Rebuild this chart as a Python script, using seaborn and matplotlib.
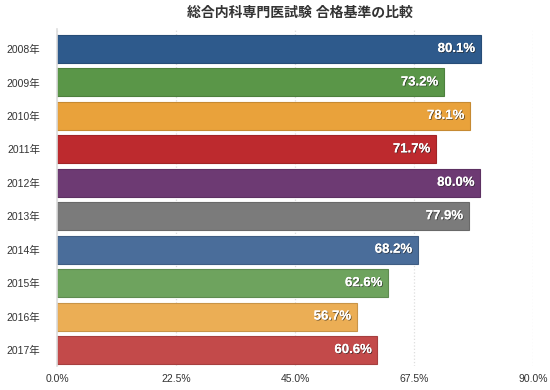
import matplotlib
matplotlib.use('Agg')
import matplotlib.pyplot as plt
import matplotlib.patheffects as pe
import matplotlib.colors as mcolors
import seaborn as sns
import pandas as pd
from matplotlib.ticker import FixedLocator, FuncFormatter

years = ['2008年', '2009年', '2010年', '2011年', '2012年',
         '2013年', '2014年', '2015年', '2016年', '2017年']
rates = [80.1, 73.2, 78.1, 71.7, 80.0, 77.9, 68.2, 62.6, 56.7, 60.6]
colors = ['#2e5a8c', '#5a9648', '#e9a23b', '#bd2a2e', '#6d3a73',
          '#7b7b7b', '#4a6d9a', '#6ea35e', '#ebae55', '#c34a4a']
xticks = [0, 22.5, 45, 67.5, 90]
title = '総合内科専門医試験 合格基準の比較'

sns.set_style('white')
plt.rcParams['font.family'] = ['Liberation Sans', 'Noto Sans CJK JP']

df = pd.DataFrame({'年': years, '合格率': rates})

fig = plt.figure(figsize=(5.5, 3.9), dpi=100)
ax = fig.add_axes([0.1036, 0.0615, 0.969 - 0.1036, 0.9256 - 0.0615])

sns.barplot(data=df, y='年', x='合格率', hue='年', palette=colors,
            legend=False, width=0.837, ax=ax, saturation=1)

# バーの枠を少し濃い色に
for patch, c in zip(ax.patches, colors):
    rgb = mcolors.to_rgb(c)
    patch.set_edgecolor(tuple(v * 0.85 for v in rgb))
    patch.set_linewidth(0.8)

# 値ラベル
for i, v in enumerate(rates):
    ax.text(v - 1.0, i, f'{v:.1f}%', ha='right', va='center',
            color='white', fontsize=9.5, fontweight='bold',
            path_effects=[pe.withSimplePatchShadow(offset=(0.6, -0.6),
                                                   shadow_rgbFace='#222222',
                                                   alpha=0.7),
                          pe.Normal()])

ax.set_xlim(0, 90)
ax.set_ylim(9.478, -0.598)
ax.xaxis.set_major_locator(FixedLocator(xticks))
ax.xaxis.set_major_formatter(FuncFormatter(lambda x, p: f'{x:.1f}%'))
ax.grid(axis='x', color='#dddddd', linestyle=':', linewidth=0.9)
ax.grid(axis='y', visible=False)
ax.set_axisbelow(True)

for s in ['top', 'right', 'bottom']:
    ax.spines[s].set_visible(False)
ax.spines['left'].set_color('#dddddd')
ax.spines['left'].set_linewidth(1.2)

ax.tick_params(axis='both', length=0, labelsize=7.5, colors='#333333')
ax.tick_params(axis='y', pad=12)
ax.tick_params(axis='x', pad=6)
ax.set_xlabel('')
ax.set_ylabel('')

fig.text(0.545, 0.968, title, ha='center', va='center',
         fontsize=10, fontweight='bold', color='#333333')

plt.savefig('out.png', dpi=100)
